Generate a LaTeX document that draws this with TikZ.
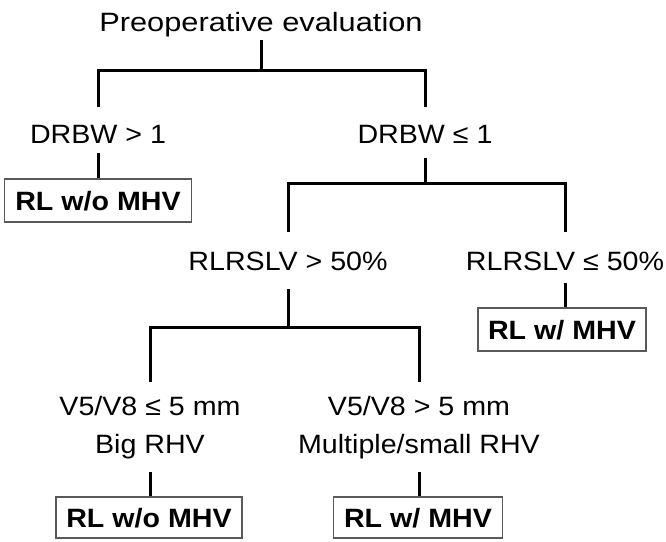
\documentclass[tikz,border=0pt]{standalone}
\usepackage{graphicx}
\usepackage{fontspec}
\setmainfont{Liberation Sans}[FakeStretch=1.08]
\begin{document}
\begin{tikzpicture}[x=1pt,y=-1pt,
  lbl/.style={inner sep=0pt, anchor=base, font=\fontsize{26.5}{30}\selectfont, text height=19.1pt, text depth=5.6pt},
  res/.style={draw=black!65, line width=1.2pt, fill=white, inner sep=0pt, font=\fontsize{26.5}{30}\selectfont\bfseries, text height=19pt, text depth=0pt, minimum height=43pt},
  conn/.style={line width=3pt}]
\fill[white] (0,0) rectangle (666,541);
\useasboundingbox (0,0) rectangle (666,541);

% labels
\node[lbl] (pre) at (261,31) {\scalebox{1.075}[1]{Preoperative evaluation}};
\node[lbl] (d1) at (98,143) {DRBW > 1};
\node[lbl] (d2) at (425,143) {DRBW ≤ 1};
\node[lbl] (r1) at (288,270) {RLRSLV > 50\%};
\node[lbl] (r2) at (565,270) {RLRSLV ≤ 50\%};
\node[lbl] (v1) at (150,415) {V5/V8 ≤ 5 mm};
\node[lbl] (v1b) at (150,453) {Big RHV};
\node[lbl] (v2) at (419,415) {V5/V8 > 5 mm};
\node[lbl] (v2b) at (419,453) {Multiple/small RHV};

% connectors
\draw[conn] ([yshift=-3.4pt]pre.south) -- ++(0,30) coordinate (j1);
\draw[conn] ([yshift=17pt]d1.north) |- (j1) -| ([yshift=17pt]d2.north);
\draw[conn] ([yshift=-9.4pt]d2.south) -- ++(0,25) coordinate (j2);
\draw[conn] ([yshift=19pt]r1.north) |- (j2) -| ([yshift=19pt]r2.north);
\draw[conn] ([yshift=-13.4pt]r1.south) -- ++(0,38) coordinate (j3);
\draw[conn] ([yshift=14pt]v1.north) |- (j3) -| ([yshift=14pt]v2.north);

% result boxes
\node[res, minimum width=187pt] (b1) at (98,200.5) {RL w/o MHV};
\node[res, minimum width=168pt] (b2) at (562,329.5) {RL w/ MHV};
\node[res, minimum width=186pt, minimum height=41pt] (b3) at (149,517.5) {RL w/o MHV};
\node[res, minimum width=169pt, minimum height=41pt] (b4) at (418,517.5) {RL w/ MHV};

\draw[conn] ([yshift=-4.4pt]d1.south) -- (d1.south |- b1.north);
\draw[conn] ([yshift=-7.4pt]r2.south) -- (r2.south |- b2.north);
\draw[conn] ([yshift=-13.4pt]v1b.south) -- (v1b.south |- b3.north);
\draw[conn] ([yshift=-13.4pt]v2b.south) -- (v2b.south |- b4.north);
\end{tikzpicture}
\end{document}
